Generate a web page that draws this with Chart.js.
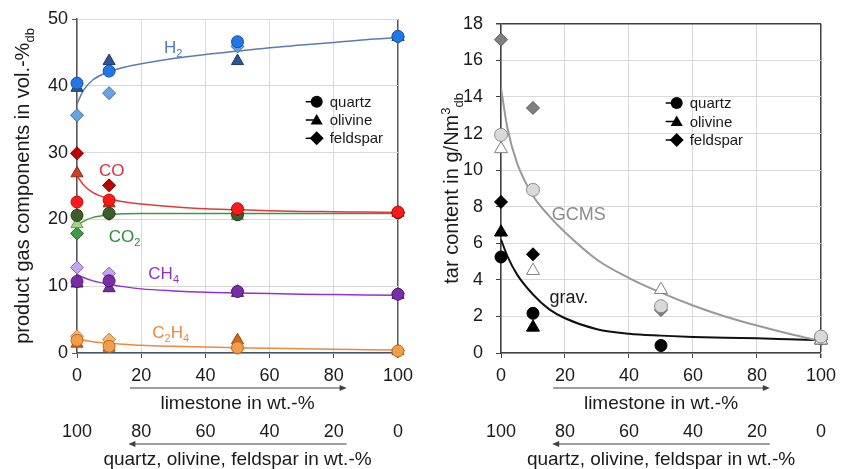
<!DOCTYPE html>
<html>
<head>
<meta charset="utf-8">
<script src="https://cdn.jsdelivr.net/npm/chart.js@4.4.1/dist/chart.umd.min.js"></script>
<style>
  html, body { margin: 0; padding: 0; background: #fff; }
  #wrap { position: relative; width: 843px; height: 469px; }
  #gasChart { position: absolute; left: 0; top: 0; width: 420px; height: 469px; }
  #tarChart { position: absolute; left: 420px; top: 0; width: 423px; height: 469px; }
</style>
</head>
<body>
<div id="wrap">
  <canvas id="gasChart" width="420" height="469"></canvas>
  <canvas id="tarChart" width="423" height="469"></canvas>
</div>
<script>
// limestone share of the bed material (wt.-%)
const limestone = [0, 10, 50, 100];

// left: product gas components (vol.-% db)
const h2Quartz = [40.4, 42.2, 46.6, 47.4];
const h2Olivine = [39.7, 43.7, 43.7, 47.3];
const h2Feldspar = [35.6, 38.9, 45.9, 47.3];
const coQuartz = [22.6, 22.9, 21.6, 21.1];
const coOlivine = [26.9, 22.4, 21.4, 21.0];
const coFeldspar = [29.9, 25.1, 21.5, 21.0];
const co2Quartz = [20.6, 20.9, 20.7, 21.0];
const co2Olivine = [19.3, 21.2, 20.5, 21.0];
const co2Feldspar = [17.9, 20.8, 20.8, 21.0];
const ch4Quartz = [10.7, 10.8, 9.2, 8.8];
const ch4Olivine = [10.4, 9.7, 9.0, 8.7];
const ch4Feldspar = [12.8, 11.9, 9.3, 8.9];
const c2h4Quartz = [1.9, 1.0, 0.8, 0.3];
const c2h4Olivine = [1.4, 0.8, 1.9, 0.3];
const c2h4Feldspar = [2.5, 2.0, 0.7, 0.35];

// trend curves
const fitX = [0, 2, 5, 10, 15, 20, 30, 40, 50, 60, 70, 80, 90, 100];
const h2Fit = [37.3, 39.3, 40.9, 42.1, 42.8, 43.3, 44.1, 44.7, 45.2, 45.7, 46.1, 46.5, 46.9, 47.2];
const coFit = [26.5, 25.2, 24.0, 23.1, 22.6, 22.3, 21.9, 21.6, 21.45, 21.3, 21.2, 21.15, 21.1, 21.05];
const co2Fit = [19.1, 19.7, 20.3, 20.7, 20.85, 20.9, 20.9, 20.9, 20.9, 20.9, 20.9, 20.9, 20.9, 20.9];
const ch4Fit = [11.8, 11.3, 10.8, 10.3, 9.9, 9.6, 9.3, 9.1, 9.0, 8.9, 8.8, 8.75, 8.7, 8.65];
const c2h4Fit = [2.2, 1.95, 1.7, 1.45, 1.3, 1.15, 1.0, 0.9, 0.8, 0.7, 0.62, 0.55, 0.5, 0.45];

// right: tar content (g/Nm3 db)
const gravQuartz = [5.25, 2.17, 0.41, 0.9];
const gravOlivine = [6.6, 1.4, null, 0.7];
const gravFeldspar = [8.26, 5.4, null, 0.85];
const gcmsQuartz = [11.93, 8.92, 2.56, 0.9];
const gcmsOlivine = [11.16, 4.5, 3.46, 0.7];
const gcmsFeldspar = [17.13, 13.4, 2.35, 0.75];
const gravFit = [6.2, 5.3, 4.3, 3.2, 2.4, 1.9, 1.3, 1.05, 0.95, 0.88, 0.83, 0.8, 0.75, 0.7];
const gcmsFit = [14.5, 12.3, 10.4, 8.6, 7.5, 6.6, 5.1, 4.1, 3.3, 2.6, 2.0, 1.5, 1.05, 0.65];

const FONT = '"Liberation Sans", Arial, sans-serif';
const TEXT = '#1a1a1a';
const GRID = '#d9d9d9';

const toPoints = (xs, ys) => xs.map((x, i) => ({x: x, y: ys[i]})).filter(p => p.y !== null);

function markers(ys, style, fill, border, radius) {
  return {
    data: toPoints(limestone, ys),
    pointStyle: style,
    pointRadius: radius,
    pointBackgroundColor: fill,
    pointBorderColor: border,
    pointBorderWidth: 1,
    clip: false,
    order: 0
  };
}

function fitLine(ys, color, width) {
  return {
    data: toPoints(fitX, ys),
    showLine: true,
    pointRadius: 0,
    borderColor: color,
    borderWidth: width,
    cubicInterpolationMode: 'monotone',
    order: 1
  };
}

// text with sub/superscript parts
function drawRich(ctx, parts, x, y, size, color, align) {
  ctx.fillStyle = color;
  ctx.textBaseline = 'alphabetic';
  ctx.textAlign = 'left';
  const fontOf = p => (p.sub || p.sup ? Math.round(size * 0.65) : size) + 'px ' + FONT;
  let w = 0;
  parts.forEach(p => { ctx.font = fontOf(p); w += ctx.measureText(p.t).width; });
  let cx = align === 'center' ? x - w / 2 : x;
  parts.forEach(p => {
    ctx.font = fontOf(p);
    const dy = p.sub ? size * 0.25 : p.sup ? -size * 0.4 : 0;
    ctx.fillText(p.t, cx, y + dy);
    cx += ctx.measureText(p.t).width;
  });
}

function drawMarker(ctx, style, x, y, r) {
  ctx.beginPath();
  if (style === 'circle') {
    ctx.arc(x, y, r, 0, Math.PI * 2);
  } else if (style === 'triangle') {
    ctx.moveTo(x, y - r);
    ctx.lineTo(x + r * 0.866, y + r * 0.5);
    ctx.lineTo(x - r * 0.866, y + r * 0.5);
    ctx.closePath();
  } else {
    ctx.moveTo(x, y - r);
    ctx.lineTo(x + r, y);
    ctx.lineTo(x, y + r);
    ctx.lineTo(x - r, y);
    ctx.closePath();
  }
  ctx.fill();
}

const decor = {
  id: 'decor',
  afterDatasetsDraw(chart, args, opts) {
    const {ctx, chartArea: area, scales} = chart;
    const x = scales.x, y = scales.y;
    ctx.save();

    // curve labels
    opts.labels.forEach(l => {
      drawRich(ctx, l.parts, x.getPixelForValue(l.x), y.getPixelForValue(l.y) + l.size * 0.35, l.size, l.color, 'center');
    });

    // legend
    const lg = opts.legend;
    ['quartz', 'olivine', 'feldspar'].forEach((name, i) => {
      const style = ['circle', 'triangle', 'diamond'][i];
      const my = lg.y + i * lg.gap;
      ctx.strokeStyle = '#000';
      ctx.lineWidth = 1.5;
      ctx.beginPath();
      ctx.moveTo(lg.x - 11, my);
      ctx.lineTo(lg.x, my);
      ctx.stroke();
      ctx.fillStyle = '#000';
      drawMarker(ctx, style, lg.x, my + (style === 'triangle' ? 1 : 0), style === 'circle' ? 6 : 7);
      ctx.font = '15px ' + FONT;
      ctx.textBaseline = 'middle';
      ctx.textAlign = 'left';
      ctx.fillStyle = TEXT;
      ctx.fillText(name, lg.x + 13, my + 1);
    });

    // arrows under the tick rows
    opts.arrows.forEach(a => {
      const s = scales[a.axis];
      const x0 = s.getPixelForValue(a.from), x1 = s.getPixelForValue(a.to);
      const ay = s.top + a.dy;
      const dir = Math.sign(x1 - x0);
      ctx.strokeStyle = '#404040';
      ctx.fillStyle = '#404040';
      ctx.lineWidth = 1.2;
      ctx.beginPath();
      ctx.moveTo(x0, ay);
      ctx.lineTo(x1 - dir * 5, ay);
      ctx.stroke();
      ctx.beginPath();
      ctx.moveTo(x1, ay);
      ctx.lineTo(x1 - dir * 7, ay - 3);
      ctx.lineTo(x1 - dir * 7, ay + 3);
      ctx.closePath();
      ctx.fill();
    });

    // rotated y-axis title
    ctx.translate(opts.yTitle.x, (area.top + area.bottom) / 2);
    ctx.rotate(-Math.PI / 2);
    drawRich(ctx, opts.yTitle.parts, 0, 0, opts.yTitle.size, TEXT, 'center');
    ctx.restore();
  }
};

function scaleSet(yMax, yStep, axisX, axisY, frameColor, frameTop, yLabelPad) {
  return {
    x: {
      type: 'linear', position: 'bottom', min: 0, max: 100, weight: 0,
      ticks: {stepSize: 20, color: TEXT, font: {family: FONT, size: 18}, padding: 7, maxRotation: 0},
      grid: {
        color: c => c.tick.value === 100 ? frameColor : GRID,
        lineWidth: c => c.tick.value === 100 ? 1.5 : 1,
        tickLength: 5, tickColor: axisX
      },
      border: {color: axisX, width: 1.5},
      title: {display: true, text: 'limestone in wt.-%', color: TEXT, font: {family: FONT, size: 19, lineHeight: 1}, padding: 0},
      afterFit: s => { s.height = 60; }
    },
    x2: {
      type: 'linear', position: 'bottom', min: 0, max: 100, reverse: true, weight: 1,
      ticks: {stepSize: 20, color: TEXT, font: {family: FONT, size: 18}, padding: 8, maxRotation: 0},
      grid: {display: false, drawTicks: false},
      border: {display: false},
      title: {display: true, text: 'quartz, olivine, feldspar in wt.-%', color: TEXT, font: {family: FONT, size: 19, lineHeight: 1}, padding: 0},
      afterFit: s => { s.height = 56; }
    },
    y: {
      type: 'linear', min: 0, max: yMax,
      ticks: {stepSize: yStep, color: TEXT, font: {family: FONT, size: 18}, padding: yLabelPad},
      grid: {
        color: c => (frameTop && c.tick.value === yMax) ? frameColor : GRID,
        lineWidth: c => (frameTop && c.tick.value === yMax) ? 1.5 : 1,
        tickLength: 5, tickColor: axisY
      },
      border: {color: axisY, width: 1.5},
      afterFit: s => { s.width = s.chart.canvas.id === 'gasChart' ? 77 : 81; }
    }
  };
}

const gasChart = new Chart(document.getElementById('gasChart'), {
  type: 'scatter',
  data: {
    datasets: [
      fitLine(h2Fit, '#5a7bb0', 1.5),
      fitLine(coFit, '#e03a3a', 1.5),
      fitLine(co2Fit, '#3a9a3a', 1.5),
      fitLine(ch4Fit, '#9a2fd0', 1.5),
      fitLine(c2h4Fit, '#f0883a', 1.5),
      markers(h2Quartz, 'circle', '#1f78e6', '#1c4f99', 6),
      markers(h2Olivine, 'triangle', '#2e5596', '#1f3864', 7),
      markers(h2Feldspar, 'rectRot', '#6aa3dd', '#3f6fa3', 6.5),
      markers(coQuartz, 'circle', '#ff1a1a', '#b01010', 6),
      markers(coOlivine, 'triangle', '#cc4125', '#8a2a15', 7),
      markers(coFeldspar, 'rectRot', '#c00000', '#800000', 6.5),
      markers(co2Quartz, 'circle', '#3b5e2b', '#263f1b', 6),
      markers(co2Olivine, 'triangle', '#a8d08d', '#6a9a50', 7),
      markers(co2Feldspar, 'rectRot', '#3f9b45', '#2a6e2e', 6.5),
      markers(ch4Quartz, 'circle', '#7b2da8', '#4e1a6e', 6),
      markers(ch4Olivine, 'triangle', '#7030a0', '#4a1d6b', 7),
      markers(ch4Feldspar, 'rectRot', '#c3a6ef', '#8a6bc0', 6.5),
      markers(c2h4Quartz, 'circle', '#f39c4a', '#b86a20', 6),
      markers(c2h4Olivine, 'triangle', '#d3661a', '#9a4510', 7),
      markers(c2h4Feldspar, 'rectRot', '#f7b46b', '#c4803a', 6.5)
    ]
  },
  options: {
    responsive: false,
    animation: false,
    layout: {padding: {top: 19, right: 18, left: 0, bottom: 0}},
    scales: scaleSet(50, 10, '#44546a', '#595959', '#595959', false, 4),
    plugins: {
      legend: {display: false},
      tooltip: {enabled: false},
      decor: {
        labels: [
          {parts: [{t: 'H'}, {t: '2', sub: true}], x: 30, y: 45.8, size: 17, color: '#4f7bc0'},
          {parts: [{t: 'CO'}], x: 10.8, y: 27.4, size: 17, color: '#e0303a'},
          {parts: [{t: 'CO'}, {t: '2', sub: true}], x: 14.8, y: 17.5, size: 17, color: '#2e8b3e'},
          {parts: [{t: 'CH'}, {t: '4', sub: true}], x: 27, y: 12, size: 17, color: '#9030c8'},
          {parts: [{t: 'C'}, {t: '2', sub: true}, {t: 'H'}, {t: '4', sub: true}], x: 29.2, y: 3.1, size: 17, color: '#f08838'}
        ],
        legend: {x: 316.7, y: 101.7, gap: 18.3},
        arrows: [
          {axis: 'x', from: 16.5, to: 84, dy: 35},
          {axis: 'x2', from: 16, to: 84, dy: 31}
        ],
        yTitle: {x: 29, size: 20, parts: [{t: 'product gas components in vol.-%'}, {t: 'db', sub: true}]}
      }
    }
  },
  plugins: [decor]
});

const tarChart = new Chart(document.getElementById('tarChart'), {
  type: 'scatter',
  data: {
    datasets: [
      fitLine(gcmsFit, '#999999', 2),
      fitLine(gravFit, '#111111', 2),
      markers(gcmsQuartz, 'circle', '#d9d9d9', '#8c8c8c', 6.5),
      markers(gcmsOlivine, 'triangle', '#ffffff', '#808080', 7.5),
      markers(gcmsFeldspar, 'rectRot', '#808080', '#595959', 6.5),
      markers(gravQuartz, 'circle', '#000000', '#000000', 6),
      markers(gravOlivine, 'triangle', '#000000', '#000000', 7.5),
      markers(gravFeldspar, 'rectRot', '#000000', '#000000', 6.5)
    ]
  },
  options: {
    responsive: false,
    animation: false,
    layout: {padding: {top: 19, right: 17, left: 0, bottom: 0}},
    scales: scaleSet(18, 2, '#404040', '#404040', '#404040', true, 13),
    plugins: {
      legend: {display: false},
      tooltip: {enabled: false},
      decor: {
        labels: [
          {parts: [{t: 'GCMS'}], x: 24.3, y: 7.6, size: 18, color: '#8c8c8c'},
          {parts: [{t: 'grav.'}], x: 21.2, y: 3.1, size: 18, color: '#1a1a1a'}
        ],
        legend: {x: 256.7, y: 103, gap: 18.5},
        arrows: [
          {axis: 'x', from: 16.3, to: 84, dy: 35},
          {axis: 'x2', from: 16, to: 84, dy: 31}
        ],
        yTitle: {x: 38, size: 20, parts: [{t: 'tar content in g/Nm'}, {t: '3', sup: true}, {t: 'db', sub: true}]}
      }
    }
  },
  plugins: [decor]
});
</script>
</body>
</html>
